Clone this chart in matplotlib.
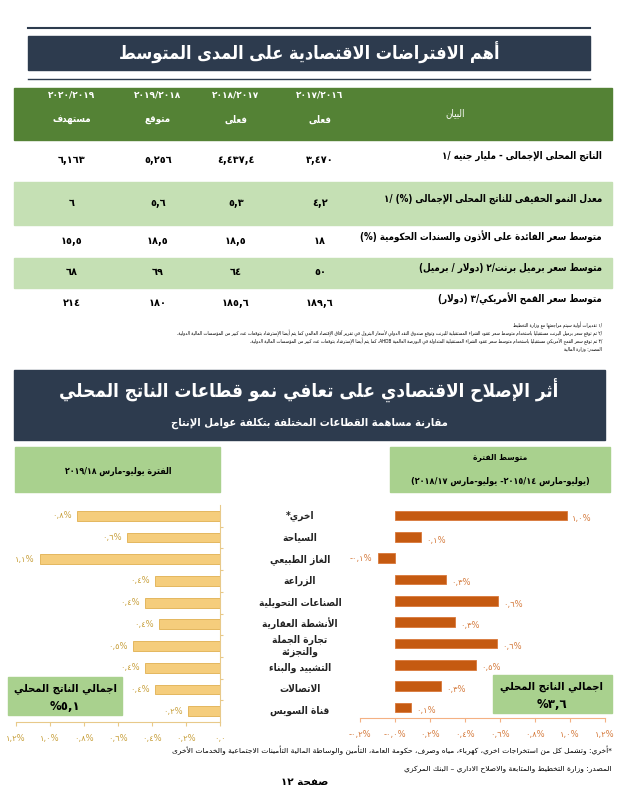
import re
import matplotlib
matplotlib.use("Agg")
import matplotlib.pyplot as plt
import matplotlib.transforms as mtransforms
from matplotlib.patches import Rectangle

plt.rcParams['font.family'] = ['DejaVu Sans']

# ---------------- data ----------------
title_top = "أهم الافتراضات الاقتصادية على المدى المتوسط"
tbl_years = ["٢٠١٧/٢٠١٦", "٢٠١٨/٢٠١٧", "٢٠١٩/٢٠١٨", "٢٠٢٠/٢٠١٩"]
tbl_kind = ["فعلى", "فعلى", "متوقع", "مستهدف"]
tbl_rows = ["الناتج المحلى الإجمالى - مليار جنيه ١/",
            "معدل النمو الحقيقى للناتج المحلى الإجمالى (%) ١/",
            "متوسط سعر الفائدة على الأذون والسندات الحكومية (%)",
            "متوسط سعر برميل برنت٢/ (دولار / برميل)",
            "متوسط سعر القمح الأمريكي٣/ (دولار)"]
gdp = [3470, 4437.4, 5256, 6163]
growth = [4.2, 5.3, 5.6, 6]
interest = [18, 18.5, 18.5, 15.5]
brent = [50, 64, 69, 68]
wheat = [189.6, 185.6, 180, 214]
notes = ["١/ تقديرات أولية سيتم مراجعتها مع وزارة التخطيط",
         "٢/ تم توقع سعر برميل البرنت مستقبليا باستخدام متوسط سعر عقود الشراء المستقبلية للبرنت وتوقع صندوق النقد الدولي لأسعار البترول في تقرير آفاق الإقتصاد العالمي كما يتم أيضا الإسترشاد بتوقعات عدد كبير من المؤسسات المالية الدولية.",
         "٣/ تم توقع سعر القمح الأمريكي مستقبليا باستخدام متوسط سعر عقود الشراء المستقبلية المتداولة في البورصة العالمية AHDB، كما يتم أيضا الإسترشاد بتوقعات عدد كبير من المؤسسات المالية الدولية.",
         "المصدر: وزارة المالية"]

title2 = "أثر الإصلاح الاقتصادي على تعافي نمو قطاعات الناتج المحلي"
subtitle2 = "مقارنة مساهمة القطاعات المختلفة بتكلفة عوامل الإنتاج"
sectors = ["اخري*", "السياحة", "الغاز الطبيعي", "الزراعة", "الصناعات التحويلية",
           "الأنشطة العقارية", "تجارة الجملة\nوالتجزئة", "التشييد والبناء",
           "الاتصالات", "قناة السويس"]
recent = [0.84, 0.55, 1.06, 0.38, 0.44, 0.36, 0.51, 0.44, 0.38, 0.19]      # 2018/19
average = [0.98, 0.15, -0.10, 0.29, 0.59, 0.34, 0.58, 0.46, 0.26, 0.09]    # 2014/15-2017/18
left_head = "الفترة يوليو-مارس ٢٠١٩/١٨"
right_head = ["متوسط الفترة", "(يوليو-مارس ٢٠١٥/١٤- يوليو-مارس ٢٠١٨/١٧)"]
left_total = "%٥,١"
right_total = "%٣,٦"
total_lbl = "اجمالي الناتج المحلي"
footnote = "*أخري: وتشمل كل من استخراجات اخري، كهرباء، مياه وصرف، حكومة العامة، التأمين والوساطة المالية التأمينات الاجتماعية والخدمات الأخرى"
source = "المصدر: وزارة التخطيط والمتابعة والاصلاح الاداري – البنك المركزي"
page = "صفحة ١٢"

# ---------------- arabic shaping ----------------
AR = {'\u0621': (0xFE80, 1), '\u0622': (0xFE81, 2), '\u0623': (0xFE83, 2), '\u0624': (0xFE85, 2),
      '\u0625': (0xFE87, 2), '\u0626': (0xFE89, 4), '\u0627': (0xFE8D, 2), '\u0628': (0xFE8F, 4),
      '\u0629': (0xFE93, 2), '\u062A': (0xFE95, 4), '\u062B': (0xFE99, 4), '\u062C': (0xFE9D, 4),
      '\u062D': (0xFEA1, 4), '\u062E': (0xFEA5, 4), '\u062F': (0xFEA9, 2), '\u0630': (0xFEAB, 2),
      '\u0631': (0xFEAD, 2), '\u0632': (0xFEAF, 2), '\u0633': (0xFEB1, 4), '\u0634': (0xFEB5, 4),
      '\u0635': (0xFEB9, 4), '\u0636': (0xFEBD, 4), '\u0637': (0xFEC1, 4), '\u0638': (0xFEC5, 4),
      '\u0639': (0xFEC9, 4), '\u063A': (0xFECD, 4), '\u0641': (0xFED1, 4), '\u0642': (0xFED5, 4),
      '\u0643': (0xFED9, 4), '\u0644': (0xFEDD, 4), '\u0645': (0xFEE1, 4), '\u0646': (0xFEE5, 4),
      '\u0647': (0xFEE9, 4), '\u0648': (0xFEED, 2), '\u0649': (0xFEEF, 2), '\u064A': (0xFEF1, 4)}
LAM_ALEF = {'\u0622': 0xFEF5, '\u0623': 0xFEF7, '\u0625': 0xFEF9, '\u0627': 0xFEFB}
LTR = re.compile(r'[0-9A-Za-z\u0660-\u0669][0-9A-Za-z\u0660-\u0669.,/]*')
MIRROR = {'(': ')', ')': '('}
DIG = str.maketrans("0123456789.", "٠١٢٣٤٥٦٧٨٩,")


def shape(s):
    res = []
    i = 0
    while i < len(s):
        c = s[i]
        if c not in AR:
            res.append(c)
            i += 1
            continue
        p = s[i - 1] if i > 0 else ''
        jp = p in AR and AR[p][1] == 4 and AR[c][1] >= 2
        if c == '\u0644' and i + 1 < len(s) and s[i + 1] in LAM_ALEF:
            res.append(chr(LAM_ALEF[s[i + 1]] + (1 if jp else 0)))
            i += 2
            continue
        nx = s[i + 1] if i + 1 < len(s) else ''
        jn = AR[c][1] == 4 and nx in AR and AR[nx][1] >= 2
        base, k = AR[c]
        if k == 1:
            f = base
        elif jp and jn:
            f = base + 3
        elif jp:
            f = base + 1
        elif jn:
            f = base + 2
        else:
            f = base
        res.append(chr(f))
        i += 1
    return ''.join(res)


def ar(s):
    out = []
    for line in s.split('\n'):
        t = shape(line)
        toks, pos = [], 0
        for m in LTR.finditer(t):
            toks += [MIRROR.get(ch, ch) for ch in t[pos:m.start()]]
            toks.append(m.group())
            pos = m.end()
        toks += [MIRROR.get(ch, ch) for ch in t[pos:]]
        out.append(''.join(reversed(toks)))
    return '\n'.join(out)


def num(v):
    return f"{v:,}".replace(".", ",").translate(DIG)


def pct(v):
    s = f"{abs(v):.1f}".translate(DIG) + "%"
    return s if v >= 0 else "-" + s


CND = dict(fontstretch='condensed')

# ---------------- figure ----------------
W, H = 618, 800
fig = plt.figure(figsize=(W / 100, H / 100), dpi=100)
bg = fig.add_axes([0, 0, 1, 1])
bg.set_xlim(0, W)
bg.set_ylim(H, 0)
bg.axis('off')

NAVY = '#2d3b4e'
DKGREEN = '#548235'
LTGREEN = '#c5e0b4'
BOXGREEN = '#a9d18e'
GOLD = '#f5cd7c'
GOLD_TXT = '#c8a03c'
ORANGE = '#c55a11'
ORANGE_TXT = '#d57a3c'

# top title
bg.plot([28, 590], [28, 28], color=NAVY, lw=1.5)
bg.add_patch(Rectangle((28, 36), 562, 34, color=NAVY))
bg.plot([28, 590], [79, 79], color=NAVY, lw=1)
bg.text(309, 53, ar(title_top), color='white', fontsize=13, fontweight='bold',
        ha='center', va='center', **CND)

# table
bg.add_patch(Rectangle((14, 88), 598, 52, color=DKGREEN))
col_x = [320, 236, 158, 72]
for x, yr, kd in zip(col_x, tbl_years, tbl_kind):
    bg.text(x, 95, yr, color='white', fontsize=6.5, fontweight='bold', ha='center', va='center')
    bg.text(x, 120, ar(kd), color='white', fontsize=7, fontweight='bold', ha='center', va='center', **CND)
bg.text(455, 113, ar("البيان"), color='white', fontsize=7, ha='center', va='center', **CND)

row_y = [160, 203, 241, 272, 303]
row_band = [None, (182, 43), None, (258, 30), None]
for vals, lbl, y, band in zip([gdp, growth, interest, brent, wheat], tbl_rows, row_y, row_band):
    if band:
        bg.add_patch(Rectangle((14, band[0]), 598, band[1], color=LTGREEN))
    bg.text(602, y - 4, ar(lbl), fontsize=7, fontweight='bold', ha='right', va='center', **CND)
    for x, v in zip(col_x, vals):
        bg.text(x, y, num(v), fontsize=7, fontweight='bold', ha='center', va='center')

for i, n in enumerate(notes):
    bg.text(602, 325 + i * 8, ar(n), fontsize=3.4, ha='right', va='center', **CND)

# section 2 title
bg.add_patch(Rectangle((14, 370), 591, 70, color=NAVY))
bg.text(309, 390, ar(title2), color='white', fontsize=13.5, fontweight='bold',
        ha='center', va='center', **CND)
bg.text(309, 423, ar(subtitle2), color='white', fontsize=8, fontweight='bold',
        ha='center', va='center', **CND)

# period boxes
bg.add_patch(Rectangle((15, 447), 205, 45, color=BOXGREEN))
bg.text(118, 471, ar(left_head), fontsize=6.3, fontweight='bold', ha='center', va='center', **CND)
bg.add_patch(Rectangle((390, 447), 220, 45, color=BOXGREEN))
bg.text(500, 458, ar(right_head[0]), fontsize=6, fontweight='bold', ha='center', va='center', **CND)
bg.text(500, 481, ar(right_head[1]), fontsize=6.5, fontweight='bold', ha='center', va='center', **CND)

# total boxes
bg.add_patch(Rectangle((8, 677), 114, 38, color=BOXGREEN))
bg.text(65, 689, ar(total_lbl), fontsize=8, fontweight='bold', ha='center', va='center', **CND)
bg.text(65, 706, left_total, fontsize=8.5, fontweight='bold', ha='center', va='center')
bg.add_patch(Rectangle((493, 675), 119, 38, color=BOXGREEN))
bg.text(552, 687, ar(total_lbl), fontsize=8, fontweight='bold', ha='center', va='center', **CND)
bg.text(552, 704, right_total, fontsize=8.5, fontweight='bold', ha='center', va='center')


def fax(x0, y0, x1, y1):
    return fig.add_axes([x0 / W, 1 - y1 / H, (x1 - x0) / W, (y1 - y0) / H])


ypos = list(range(len(sectors)))
ticks = [-0.2, 0, 0.2, 0.4, 0.6, 0.8, 1.0, 1.2]

# left chart (recent period), x axis reversed
axL = fax(16, 505, 220, 722)
axL.patch.set_alpha(0)
axL.barh(ypos, recent, height=0.45, color=GOLD, edgecolor='#e0b050', linewidth=0.6)
axL.set_xlim(1.2, 0)
axL.set_ylim(9.5, -0.5)
for y, v in zip(ypos, recent):
    axL.text(v + 0.03, y, pct(v), color=GOLD_TXT, fontsize=6, ha='right', va='center')
axL.set_xticks(ticks[1:])
axL.set_xticklabels([pct(t) if t else "٠,٠" for t in ticks[1:]], fontsize=6, color=GOLD_TXT)
axL.set_yticks([y + 0.5 for y in ypos[:-1]])
axL.yaxis.tick_right()
axL.set_yticklabels([])
axL.tick_params(axis='y', length=2, color='#e8c98a', right=True, left=False)
axL.tick_params(axis='x', length=3, color='#e8c98a', pad=6)
for s in ['top', 'left']:
    axL.spines[s].set_visible(False)
axL.spines['bottom'].set_color('#e8c98a')
axL.spines['right'].set_color('#e8c98a')

# right chart (average period)
axR = fax(360, 505, 605, 718)
axR.patch.set_alpha(0)
axR.barh(ypos, average, height=0.45, color=ORANGE, edgecolor='#d9783a', linewidth=0.6)
axR.set_xlim(-0.2, 1.2)
axR.set_ylim(9.5, -0.5)
for y, v in zip(ypos, average):
    if v >= 0:
        axR.text(v + 0.03, y + 0.15, pct(v), color=ORANGE_TXT, fontsize=6, ha='left', va='center')
    else:
        axR.text(v - 0.03, y, pct(v), color=ORANGE_TXT, fontsize=6, ha='right', va='center')
axR.set_xticks(ticks)
axR.set_xticklabels([pct(t) if t else "-٠,٠%" for t in ticks], fontsize=6, color=ORANGE_TXT)
axR.set_yticks([])
axR.tick_params(axis='x', length=3, color='#f4b183', pad=6)
for s in ['top', 'left', 'right']:
    axR.spines[s].set_visible(False)
axR.spines['bottom'].set_color('#f4b183')

# sector names between the charts
tr = mtransforms.blended_transform_factory(fig.transFigure, axL.transData)
for y, name in zip(ypos, sectors):
    fig.text(300 / W, y, ar(name), transform=tr, fontsize=7.3, fontweight='bold',
             ha='center', va='center', linespacing=1.2, color='#222222', **CND)

# footer
bg.text(612, 750, ar(footnote), fontsize=5.4, ha='right', va='center')
bg.text(612, 769, ar(source), fontsize=5.4, ha='right', va='center')
bg.text(305, 782, ar(page), fontsize=7.5, fontweight='bold', ha='center', va='center')

fig.savefig("out.png", dpi=100)
